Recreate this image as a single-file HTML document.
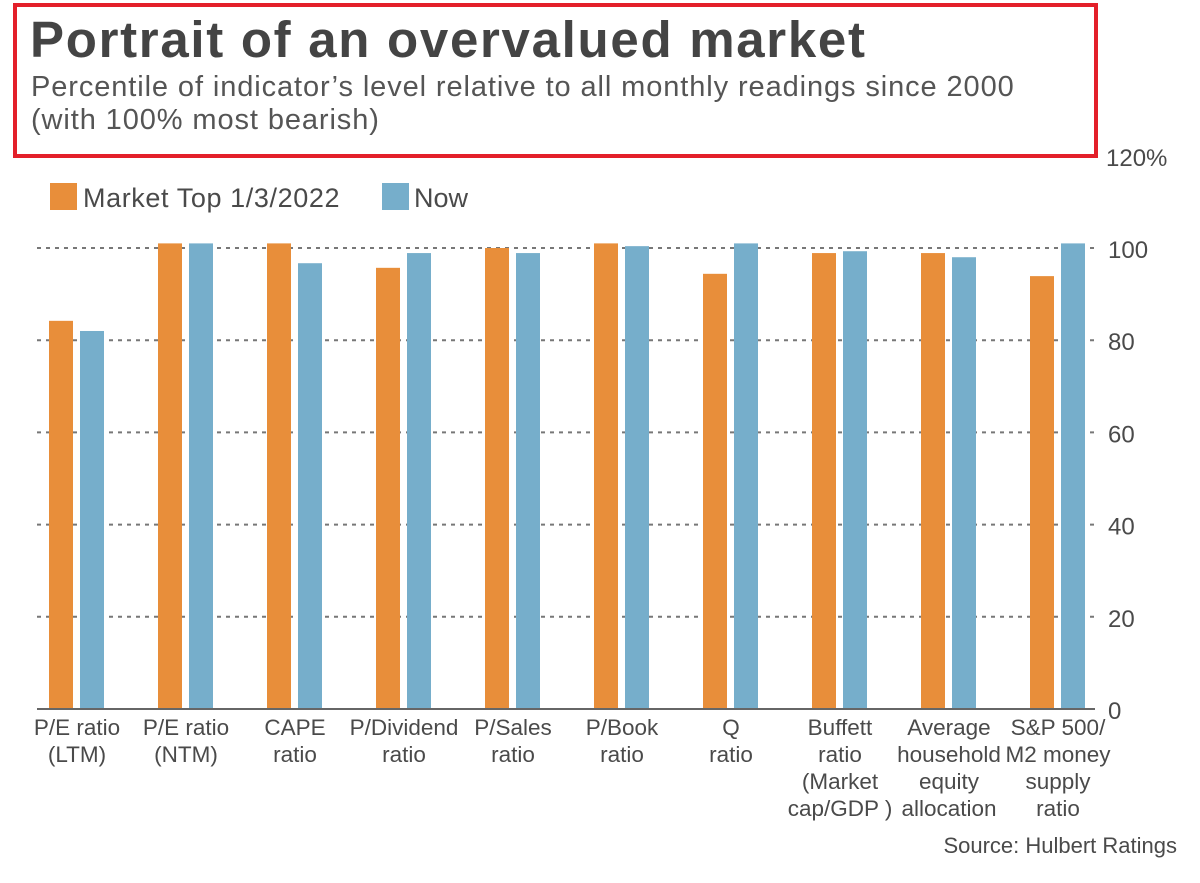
<!DOCTYPE html>
<html><head><meta charset="utf-8"><style>
body{margin:0;background:#fff;width:1200px;height:883px;overflow:hidden;font-family:"Liberation Sans",sans-serif;color:#4a4a4a;position:relative}
#box{position:absolute;left:13px;top:3px;width:1077px;height:147px;border:4px solid #e3202a}
#title{position:absolute;left:30px;top:10px;font-size:51px;font-weight:bold;letter-spacing:1.7px;color:#444;white-space:nowrap}
#sub{position:absolute;left:31px;top:71px;font-size:29px;line-height:33px;letter-spacing:0.9px;color:#555;white-space:nowrap}
</style></head><body>
<div id="box"></div>
<div id="title">Portrait of an overvalued market</div>
<div id="sub">Percentile of indicator’s level relative to all monthly readings since 2000<br>(with 100% most bearish)</div>
<svg id="chart" width="1200" height="883" style="position:absolute;left:0;top:0"></svg>
<script>
const categories=[["P/E ratio","(LTM)"],["P/E ratio","(NTM)"],["CAPE","ratio"],["P/Dividend","ratio"],["P/Sales","ratio"],["P/Book","ratio"],["Q","ratio"],["Buffett","ratio","(Market","cap/GDP )"],["Average","household","equity","allocation"],["S&P 500/","M2 money","supply","ratio"]];
const marketTop=[84.2,101,101,95.7,100,101,94.4,98.9,98.9,93.9];
const now=[82,101,96.7,98.9,98.9,100.4,101,99.3,98,101];
const ticks=[0,20,40,60,80,100];
const ns="http://www.w3.org/2000/svg";
const svg=document.getElementById('chart');
const y=v=>709-v*4.61;
const cx=i=>77+i*109;
function mk(t,a,txt){const e=document.createElementNS(ns,t);for(const k in a)e.setAttribute(k,a[k]);if(txt!==undefined)e.textContent=txt;svg.appendChild(e);return e;}
ticks.forEach(t=>{
  if(t>0){const g=mk('line',{x1:37,x2:1095,y1:y(t),y2:y(t),stroke:'#777','stroke-width':2,'stroke-dasharray':'4,5'});
  
  }
  const l=mk('text',{x:1108,y:y(t)+10,'font-size':24,fill:'#4a4a4a'},String(t));
  
  
});
const l120=mk('text',{x:1106,y:y(120)+10,'font-size':24,fill:'#4a4a4a'},'120%');


categories.forEach((c,i)=>{
  const b1=mk('rect',{x:cx(i)-28,y:y(marketTop[i]),width:24,height:709-y(marketTop[i]),fill:'#e88e3a'});
  
  
  const b2=mk('rect',{x:cx(i)+3,y:y(now[i]),width:24,height:709-y(now[i]),fill:'#76aecb'});
  
  
  c.forEach((line,j)=>{
    const t=mk('text',{x:cx(i),y:735+j*27,'font-size':22.5,'text-anchor':'middle',fill:'#4a4a4a'},line);
    
    
  });
});
const ax=mk('line',{x1:37,x2:1095,y1:709,y2:709,stroke:'#666','stroke-width':2});


const lg1=mk('rect',{x:50,y:183,width:27,height:27,fill:'#e88e3a'});


const lt1=mk('text',{x:83,y:207,'font-size':27,fill:'#4a4a4a','letter-spacing':0.6},'Market Top 1/3/2022');


const lg2=mk('rect',{x:382,y:183,width:27,height:27,fill:'#76aecb'});


const lt2=mk('text',{x:414,y:207,'font-size':27,fill:'#4a4a4a'},'Now');


const src=mk('text',{x:1177,y:853,'font-size':22,'text-anchor':'end',fill:'#4a4a4a'},'Source: Hulbert Ratings');


</script>
</body></html>
